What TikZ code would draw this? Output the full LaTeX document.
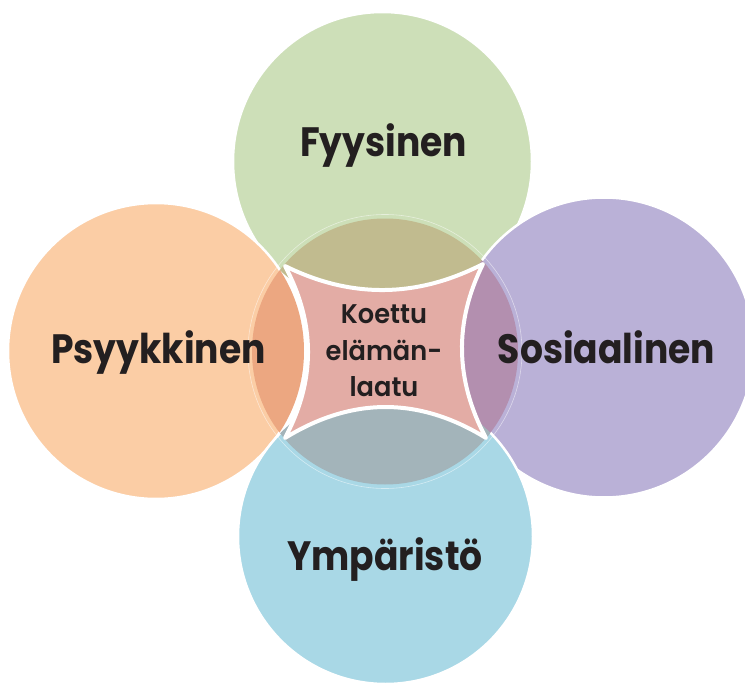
\documentclass[tikz,border=0pt]{standalone}
\usepackage{fontspec}
\setmainfont{Poppins}
\newfontfamily\outerfont{Poppins}[UprightFont={* Bold}, FakeStretch=0.88]
\newfontfamily\innerfont{Poppins}[UprightFont={* SemiBold}, FakeStretch=0.95]
\definecolor{greenc}{HTML}{CDDFB8}
\definecolor{greenlens}{HTML}{C1BB8F}
\definecolor{orangec}{HTML}{FBCDA5}
\definecolor{orangelens}{HTML}{ECA781}
\definecolor{purplec}{HTML}{BAB1D7}
\definecolor{purplelens}{HTML}{B38FAF}
\definecolor{bluec}{HTML}{A9D8E6}
\definecolor{bluelens}{HTML}{A3B4BA}
\definecolor{pinkc}{HTML}{E3ACA5}
\definecolor{ink}{HTML}{231F20}
\tikzset{
  ring/.style={draw=white, line width=2.5pt},
  bigtext/.style={font=\outerfont\fontsize{41}{48}\selectfont, text=ink, anchor=base, inner sep=0pt},
  midtext/.style={font=\innerfont\fontsize{27}{36}\selectfont, text=ink, anchor=base, inner sep=0pt},
}
\begin{document}
\begin{tikzpicture}[x=1pt,y=-1pt]
\clip (0,0) rectangle (745,685);
\fill[white] (0,0) rectangle (745,685);
% centres of the four outer circles and the hidden middle circle
\coordinate (cg) at (382.5,161.5);
\coordinate (co) at (156,351);
\coordinate (cp) at (604,347.5);
\coordinate (cb) at (385.5,536.5);
\coordinate (cm) at (385,351.5);
% outer circles
\filldraw[fill=greenc, ring] (cg) circle[radius=149.5pt];
\filldraw[fill=orangec, ring] (co) circle[radius=148pt];
\filldraw[fill=purplec, ring] (cp) circle[radius=150pt];
\filldraw[fill=bluec, ring] (cb) circle[radius=147.5pt];
% darker overlaps with the middle circle
\begin{scope}
  \clip (cm) circle[radius=133pt];
  \fill[greenlens] (cg) circle[radius=149.5pt];
  \fill[orangelens] (co) circle[radius=148pt];
  \fill[purplelens] (cp) circle[radius=150pt];
  \fill[bluelens] (cb) circle[radius=147.5pt];
\end{scope}
\draw[white, opacity=0.5, line width=0.6pt] (cm) circle[radius=137pt];
% concave centre shape
\filldraw[fill=pinkc, draw=white, line width=4pt, line join=round]
  (285,266) .. controls (351,298.7) and (417,298) .. (483,264)
  .. controls (454,322) and (455,380) .. (486,438)
  .. controls (419,396.7) and (352,396.7) .. (285,438)
  .. controls (315.7,380.7) and (315.7,323.3) .. cycle;
% labels
\node[bigtext] (fys) at (383.5,157) {Fyysinen};
\node[bigtext] (psy) at (158.5,363) {Psyykkinen};
\node[bigtext] (sos) at (606.5,363) {Sosiaalinen};
\node[bigtext] (ymp) at (385,570) {Ympäristö};
\node[midtext] (l1) at (384,323) {Koettu};
\node[midtext] (l2) at (384,360) {elämän-};
\node[midtext] (l3) at (384,396) {laatu};
\end{tikzpicture}
\end{document}
